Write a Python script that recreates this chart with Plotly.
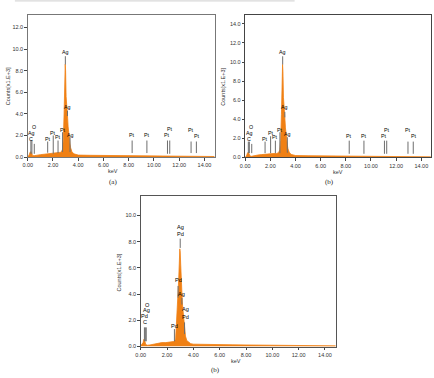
import plotly.graph_objects as go

# ---------------- data ----------------
energy = [0.0, 0.1, 0.18, 0.24, 0.3, 0.38, 0.5, 0.7, 1.0, 1.3, 1.6, 1.9, 2.2, 2.5, 2.65,
          2.75, 2.82, 2.88, 2.93, 2.97, 3.0, 3.04, 3.08, 3.12, 3.16, 3.2, 3.25, 3.3, 3.35,
          3.4, 3.5, 3.65, 3.8, 4.0, 5.0, 6.0, 7.0, 8.0, 9.0, 10.0, 11.0, 12.0, 13.0, 14.0, 14.8]

counts_a = [0.05, 0.15, 0.42, 0.5, 0.38, 0.15, 0.12, 0.18, 0.22, 0.26, 0.3, 0.32, 0.34, 0.38, 0.45,
            0.7, 1.6, 4.0, 7.2, 8.6, 8.0, 5.6, 4.4, 4.0, 3.6, 2.8, 2.0, 1.5, 1.2,
            0.85, 0.5, 0.3, 0.22, 0.18, 0.16, 0.15, 0.14, 0.13, 0.12, 0.1, 0.09, 0.08, 0.07, 0.06, 0.05]

counts_b = [0.05, 0.15, 0.45, 0.55, 0.4, 0.15, 0.12, 0.2, 0.25, 0.3, 0.35, 0.38, 0.4, 0.42, 0.5,
            0.8, 1.8, 4.5, 8.2, 9.75, 9.0, 6.3, 4.9, 4.5, 4.0, 3.1, 2.2, 1.6, 1.3,
            0.9, 0.55, 0.32, 0.24, 0.2, 0.18, 0.17, 0.16, 0.15, 0.13, 0.12, 0.1, 0.09, 0.08, 0.07, 0.06]

counts_c = [0.05, 0.15, 0.3, 0.55, 0.45, 0.15, 0.1, 0.12, 0.18, 0.25, 0.3, 0.3, 0.32, 0.38, 0.55,
            2.2, 3.8, 5.0, 6.3, 7.45, 7.2, 6.2, 4.8, 3.9, 3.4, 2.9, 2.2, 1.6, 1.2,
            0.8, 0.45, 0.3, 0.22, 0.18, 0.15, 0.14, 0.13, 0.12, 0.11, 0.1, 0.09, 0.08, 0.06, 0.05, 0.05]

# element marker lines (keV, bottom, top) in counts x1000
lines_a_kev = [0.25, 0.33, 0.52, 1.58, 2.02, 2.40, 2.76, 2.98, 3.15, 3.35, 8.27, 9.44, 11.07, 11.25, 12.94, 13.36]
lines_a_bot = [0.3, 0.3, 0.3, 0.4, 0.3, 0.37, 0.46, 8.57, 3.8, 0.46, 0.37, 0.37, 0.3, 0.3, 0.37, 0.37]
lines_a_top = [1.53, 1.53, 1.22, 1.44, 2.0, 1.53, 2.3, 9.34, 4.3, 1.84, 1.53, 1.53, 1.53, 1.53, 1.44, 1.44]
labels_a_text = ["O", "Ag", "C", "Pt", "Pt", "Pt", "Pt", "Ag", "Ag", "Ag", "Pt", "Pt", "Pt", "Pt", "Pt", "Pt"]
labels_a_kev = [0.47, 0.29, 0.22, 1.58, 2.02, 2.40, 2.76, 2.98, 3.15, 3.4, 8.27, 9.44, 11.07, 11.25, 12.94, 13.4]
labels_a_y = [2.82, 2.2, 1.68, 1.68, 2.23, 1.87, 2.5, 9.73, 4.6, 2.08, 2.0, 2.0, 2.0, 2.6, 2.54, 1.93]

lines_b_kev = [0.25, 0.33, 0.52, 1.58, 2.02, 2.40, 2.76, 2.98, 3.15, 3.35, 8.27, 9.44, 11.07, 11.25, 12.94, 13.36]
lines_b_bot = [0.45, 0.45, 0.45, 0.45, 0.45, 0.45, 0.45, 9.74, 4.2, 0.49, 0.38, 0.38, 0.38, 0.38, 0.38, 0.38]
lines_b_top = [1.66, 1.66, 1.42, 1.66, 2.22, 1.76, 2.64, 10.6, 4.78, 2.12, 1.76, 1.76, 1.76, 1.76, 1.66, 1.66]
labels_b_text = ["O", "Ag", "C", "Pt", "Pt", "Pt", "Pt", "Ag", "Ag", "Ag", "Pt", "Pt", "Pt", "Pt", "Pt", "Pt"]
labels_b_kev = [0.5, 0.32, 0.28, 1.58, 2.02, 2.40, 2.76, 2.98, 3.15, 3.4, 8.27, 9.44, 11.07, 11.25, 12.94, 13.4]
labels_b_y = [3.22, 2.53, 1.94, 1.94, 2.57, 2.18, 2.88, 11.06, 5.24, 2.46, 2.29, 2.29, 2.29, 2.91, 2.91, 2.22]

lines_c_kev = [0.28, 0.35, 0.42, 2.56, 2.84, 3.0, 3.13, 3.33]
lines_c_bot = [0.4, 0.4, 0.4, 0.4, 3.73, 7.52, 3.2, 0.95]
lines_c_top = [1.46, 1.46, 1.46, 1.33, 4.62, 8.23, 3.7, 1.84]
labels_c_text = ["O", "Ag", "Pd", "C", "Pd", "Pd", "Ag", "Pd", "Ag", "Ag", "Pd"]
labels_c_kev = [0.48, 0.41, 0.3, 0.35, 2.56, 2.84, 3.0, 3.0, 3.1, 3.38, 3.38]
labels_c_y = [3.18, 2.75, 2.32, 1.84, 1.59, 5.05, 9.11, 8.58, 3.98, 2.9, 2.27]

x_ticks = [0, 2, 4, 6, 8, 10, 12, 14]
y_ticks_a = [0, 2, 4, 6, 8, 10, 12]
y_ticks_b = [0, 2, 4, 6, 8, 10, 12, 14]
y_ticks_c = [0, 2, 4, 6, 8, 10]

# ---------------- figure ----------------
W, H = 434, 378
ORANGE = "rgb(240,128,20)"
fig = go.Figure()

panels = [
    ("x", "y", counts_a, lines_a_kev, lines_a_bot, lines_a_top, labels_a_text, labels_a_kev, labels_a_y, 5.3),
    ("x2", "y2", counts_b, lines_b_kev, lines_b_bot, lines_b_top, labels_b_text, labels_b_kev, labels_b_y, 5.3),
    ("x3", "y3", counts_c, lines_c_kev, lines_c_bot, lines_c_top, labels_c_text, labels_c_kev, labels_c_y, 5.6),
]

annotations = []
for xa, ya, cnt, lk, lb, lt, tt, tk, ty, fs in panels:
    fig.add_trace(go.Scatter(x=energy, y=cnt, xaxis=xa, yaxis=ya, mode="lines",
                             line=dict(color=ORANGE, width=0.8), fill="tozeroy",
                             fillcolor=ORANGE, hoverinfo="skip"))
    lx, ly = [], []
    for e, b, t in zip(lk, lb, lt):
        lx += [e, e, None]
        ly += [b, t, None]
    fig.add_trace(go.Scatter(x=lx, y=ly, xaxis=xa, yaxis=ya, mode="lines",
                             line=dict(color="#6e6e6e", width=1), hoverinfo="skip"))
    for t, e, y in zip(tt, tk, ty):
        annotations.append(dict(x=e, y=y, xref=xa, yref=ya, text=t, showarrow=False,
                                font=dict(family="Liberation Sans", size=fs, color="black"),
                                xanchor="center", yanchor="middle"))


def px_x(p):
    return p / W


def px_y(p):
    return 1 - p / H


tickfont = dict(family="Liberation Sans", size=5.5, color="#333333")
common_x = dict(tickvals=x_ticks, tickformat=".2f", ticks="outside", ticklen=2.5,
                tickcolor="#444444", tickfont=tickfont, showgrid=False, zeroline=False,
                showline=True, mirror=True, linewidth=1)
common_y = dict(tickformat=".1f", ticks="outside", ticklen=2.5, tickcolor="#444444",
                tickfont=tickfont, showgrid=False, zeroline=False, showline=True,
                mirror=True, linewidth=1)

fig.update_layout(
    width=W, height=H, margin=dict(l=0, r=0, t=0, b=0),
    paper_bgcolor="white", plot_bgcolor="white", showlegend=False,
    font=dict(family="Liberation Sans", color="black"),
    xaxis=dict(common_x, domain=[px_x(23), px_x(212)], range=[0, 14.8], anchor="y", linecolor="#777777"),
    yaxis=dict(common_y, domain=[px_y(158.3), px_y(15)], range=[0, 13.17], tickvals=y_ticks_a,
               anchor="x", linecolor="#777777"),
    xaxis2=dict(common_x, domain=[px_x(243), px_x(430.7)], range=[0, 14.75], anchor="y2", linecolor="#444444"),
    yaxis2=dict(common_y, domain=[px_y(158.7), px_y(15)], range=[0, 14.94], tickvals=y_ticks_b,
                anchor="x2", linecolor="#444444"),
    xaxis3=dict(common_x, domain=[px_x(137.3), px_x(335.3)], range=[0, 14.87], anchor="y3", linecolor="#555555"),
    yaxis3=dict(common_y, domain=[px_y(349.3), px_y(197.3)], range=[0, 11.5], tickvals=y_ticks_c,
                anchor="x3", linecolor="#555555"),
)

title_font = dict(family="Liberation Sans", size=5.5, color="#333333")
cap_font = dict(family="Liberation Serif", size=7, color="#222222")
for x, y in [(109, 172.3), (337, 173), (233.3, 364)]:
    annotations.append(dict(x=px_x(x), y=px_y(y), xref="paper", yref="paper", text="keV",
                            showarrow=False, font=title_font, xanchor="center", yanchor="middle"))
for x, y in [(3, 87), (221, 87), (115, 275)]:
    annotations.append(dict(x=px_x(x), y=px_y(y), xref="paper", yref="paper", text="Counts[x1.E+3]",
                            showarrow=False, font=title_font, textangle=-90,
                            xanchor="center", yanchor="middle"))
for x, y, t in [(109, 183.5, "(a)"), (328, 183.5, "(b)"), (213, 373, "(b)")]:
    annotations.append(dict(x=px_x(x), y=px_y(y), xref="paper", yref="paper", text=t,
                            showarrow=False, font=cap_font, xanchor="center", yanchor="middle"))

fig.update_layout(annotations=annotations)
fig.add_shape(type="line", xref="paper", yref="paper", x0=px_x(10), x1=px_x(293),
              y0=px_y(0.8), y1=px_y(0.8), line=dict(color="#d8d8d8", width=1.2))

fig.write_html("out.html")
